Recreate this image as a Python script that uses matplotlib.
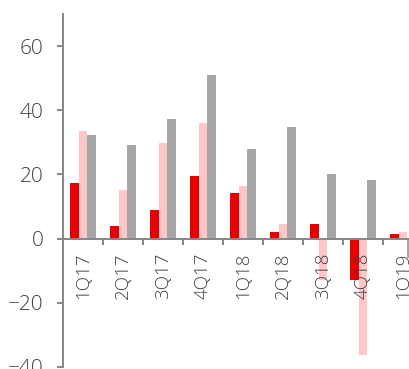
import numpy as np
import matplotlib.pyplot as plt

quarters = ["1Q17", "2Q17", "3Q17", "4Q17", "1Q18", "2Q18", "3Q18", "4Q18", "1Q19"]
series_red = [17.4, 3.8, 8.8, 19.4, 14.3, 2.0, 4.5, -12.8, 1.3]
series_pink = [33.6, 15.0, 29.9, 36.1, 16.3, 4.5, -13.0, -36.4, 2.1]
series_grey = [32.4, 29.2, 37.4, 51.0, 28.0, 34.9, 20.0, 18.2, -6.0]

plt.rcParams["font.family"] = ["Open Sans", "DejaVu Sans"]
plt.rcParams["font.weight"] = "light"

fig = plt.figure(figsize=(4.09, 3.69), dpi=100)
# axes run past the right edge, as in the cropped original
ax = fig.add_axes([63 / 409, 0.006, 360 / 409, 0.956])

x = np.arange(len(quarters))
w = 0.22
ax.bar(x - w, series_red, w, color="#E60000", zorder=1)
ax.bar(x, series_pink, w, color="#FFC7C7", zorder=1)
ax.bar(x + w, series_grey, w, color="#A6A6A6", zorder=1)
ax.set_axisbelow(False)

ax.set_xlim(-0.5, len(quarters) - 0.5)
ax.set_ylim(-40, 70)
ax.set_yticks([-40, -20, 0, 20, 40, 60])

for side in ("top", "right"):
    ax.spines[side].set_visible(False)
for side in ("left", "bottom"):
    ax.spines[side].set_color("#868686")
    ax.spines[side].set_linewidth(1.4)
ax.spines["bottom"].set_position(("data", 0))

ax.set_xticks(x)
ax.set_xticklabels(quarters, rotation=90, va="top")
ax.set_xticks(x[1:] - 0.5, minor=True)
ax.tick_params(axis="x", which="major", length=0, pad=10, labelsize=13.5, labelcolor="#404040")
ax.tick_params(axis="x", which="minor", length=4, width=1.4, color="#868686", direction="out")
ax.tick_params(axis="y", length=4, width=1.4, color="#868686", pad=10, labelsize=15, labelcolor="#404040")

fig.savefig("out.png", dpi=100)
